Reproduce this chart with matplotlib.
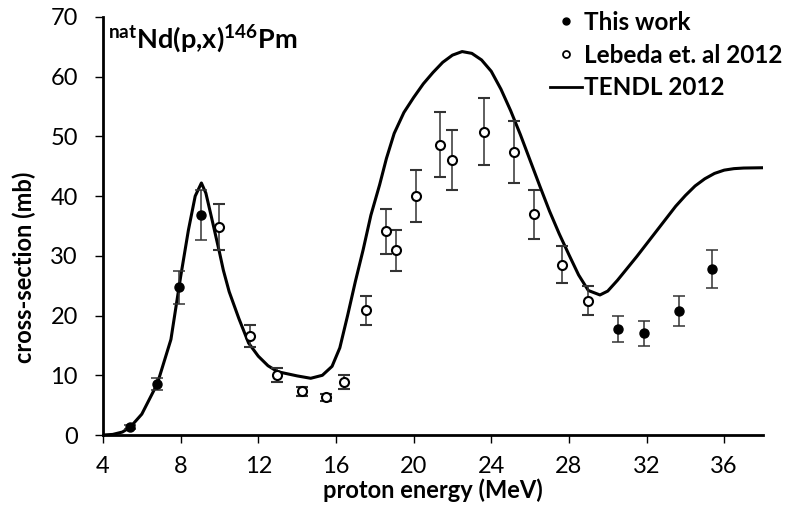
import matplotlib.pyplot as plt
from matplotlib.lines import Line2D

plt.rcParams['font.family'] = ['Lato', 'DejaVu Sans']
plt.rcParams['mathtext.fontset'] = 'custom'
plt.rcParams['mathtext.rm'] = 'Lato'
plt.rcParams['mathtext.bf'] = 'Lato:bold'

# This work
work_e = [5.39, 6.76, 7.9, 9.04, 30.54, 31.85, 33.67, 35.38]
work_xs = [1.3, 8.5, 24.7, 36.9, 17.7, 17.0, 20.7, 27.8]
work_err = [0.3, 1.0, 2.8, 4.2, 2.2, 2.1, 2.5, 3.2]

# Lebeda et al 2012
leb_e = [9.99, 11.56, 12.95, 14.27, 15.5, 16.4, 17.55, 18.6, 19.09, 20.1,
         21.37, 22.0, 23.63, 25.18, 26.22, 27.65, 29.0]
leb_xs = [34.8, 16.6, 10.1, 7.3, 6.3, 8.9, 20.9, 34.1, 30.9, 40.0,
          48.6, 46.1, 50.8, 47.4, 37.0, 28.5, 22.5]
leb_err = [3.9, 1.8, 1.2, 0.8, 0.6, 1.2, 2.4, 3.8, 3.4, 4.4,
           5.4, 5.0, 5.6, 5.2, 4.1, 3.1, 2.45]

# TENDL 2012
tendl_e = [4, 4.5, 5, 5.4, 6, 6.8, 7.5, 8, 8.4, 8.75, 9.07, 9.3, 9.6, 10,
           10.2, 10.5, 11, 11.5, 12, 12.5, 13, 14, 14.7, 15.3, 15.8, 16.2,
           16.6, 17.0, 17.4, 17.8, 18.25, 18.6, 19, 19.5, 20, 20.5, 21, 21.5,
           22, 22.5, 23, 23.5, 24, 24.5, 25, 25.5, 26, 26.5, 27, 27.5, 28,
           28.5, 29, 29.6, 30, 30.5, 31, 31.5, 32, 32.5, 33, 33.5, 34, 34.5,
           35, 35.5, 36, 36.5, 37, 38]
tendl_xs = [0, 0.1, 0.5, 1.3, 3.5, 8.6, 16, 26.5, 34.3, 40, 42.2, 40.5, 36.3,
            30.6, 27.6, 24, 19.5, 15.4, 13.2, 11.6, 10.6, 9.9, 9.5, 10.0,
            11.5, 14.6, 20.0, 25.7, 31.0, 36.8, 41.9, 46.3, 50.5, 54, 56.5,
            58.8, 60.7, 62.4, 63.6, 64.2, 63.9, 62.8, 60.9, 57.9, 54.3, 50.3,
            46, 41.7, 37.5, 33.7, 30.2, 26.8, 24.2, 23.45, 24.1, 25.9, 27.9,
            29.9, 32.0, 34.1, 36.2, 38.3, 40.1, 41.7, 42.9, 43.8, 44.35, 44.6,
            44.7, 44.75]

xticks = [4, 8, 12, 16, 20, 24, 28, 32, 36]
yticks = [0, 10, 20, 30, 40, 50, 60, 70]

fig = plt.figure(figsize=(7.94, 5.13), dpi=100)
ax = fig.add_axes([0.1297, 0.152, 0.8313, 0.815])

ax.plot(tendl_e, tendl_xs, color='black', lw=2.2, zorder=2)

ax.errorbar(work_e, work_xs, yerr=work_err, fmt='o', color='black',
            ecolor='#333333', elinewidth=1.1, capsize=4, capthick=1.1,
            markersize=6.5, zorder=3)
ax.errorbar(leb_e, leb_xs, yerr=leb_err, fmt='o', color='black',
            mfc='white', mec='black', mew=1.5,
            ecolor='#333333', elinewidth=1.1, capsize=4, capthick=1.1,
            markersize=6.5, zorder=3)

ax.set_xlim(4, 38)
ax.set_ylim(0, 70)
ax.set_xticks(xticks)
ax.set_yticks(yticks)
ax.tick_params(axis='x', labelsize=17, length=6, width=1, pad=9)
ax.tick_params(axis='y', labelsize=17, length=6, width=1, pad=12)
for s in ['top', 'right']:
    ax.spines[s].set_visible(False)
for s in ['left', 'bottom']:
    ax.spines[s].set_linewidth(2)

ax.set_xlabel('proton energy (MeV)', fontsize=17, fontweight='bold', labelpad=1)
ax.set_ylabel('cross-section (mb)', fontsize=17, fontweight='bold')
ax.yaxis.set_label_coords(-0.101, 0.40)

ax.text(0.007, 0.985, r'$\mathbf{^{nat}Nd(p{,}x)^{146}Pm}$', transform=ax.transAxes,
        fontsize=19.5, va='top', ha='left')

handles = [
    Line2D([], [], ls='none', marker='o', color='black', markersize=5),
    Line2D([], [], ls='none', marker='o', mfc='white', mec='black',
           mew=1.3, markersize=5),
    Line2D([], [], color='black', lw=2),
]
labels = ['This work', 'Lebeda et. al 2012', 'TENDL 2012']
ax.legend(handles, labels, loc='upper right', bbox_to_anchor=(1.063, 1.067),
          frameon=False, prop={'size': 17.5, 'weight': 'bold'},
          handlelength=1.3, handletextpad=0.1, labelspacing=0.4)

plt.savefig('out.png', dpi=100)
